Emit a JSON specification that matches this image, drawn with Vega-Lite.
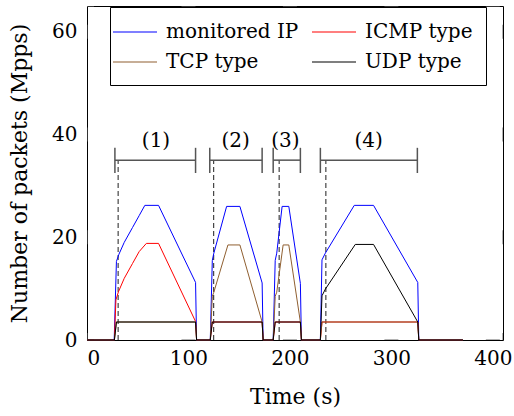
{
  "$schema": "https://vega.github.io/schema/vega-lite/v6.json",
  "autosize": {"type": "none"},
  "width": 416,
  "height": 334,
  "padding": {"left": 87, "top": 6, "right": 11, "bottom": 76},
  "background": "white",
  "config": {
    "font": "DejaVu Serif",
    "view": {"stroke": "black", "strokeWidth": 1},
    "axis": {
      "labelFont": "DejaVu Serif",
      "titleFont": "DejaVu Serif",
      "labelFontSize": 20,
      "titleFontSize": 22,
      "titleFontWeight": "normal",
      "labelColor": "black",
      "titleColor": "black",
      "ticks": false,
      "domain": false,
      "grid": false
    }
  },
  "datasets": {
    "lines": [
      {"t": 0, "v": 0, "s": "monitored IP"}, {"t": 26.8, "v": 0, "s": "monitored IP"}, {"t": 29, "v": 15.3, "s": "monitored IP"}, {"t": 31.5, "v": 16.7, "s": "monitored IP"}, {"t": 36.7, "v": 19, "s": "monitored IP"}, {"t": 44.9, "v": 21.9, "s": "monitored IP"}, {"t": 51.4, "v": 24.2, "s": "monitored IP"}, {"t": 57, "v": 26.2, "s": "monitored IP"}, {"t": 70.5, "v": 26.2, "s": "monitored IP"}, {"t": 107, "v": 11.2, "s": "monitored IP"}, {"t": 108, "v": 0, "s": "monitored IP"},
      {"t": 121.5, "v": 0, "s": "monitored IP"}, {"t": 123.5, "v": 15.5, "s": "monitored IP"}, {"t": 125, "v": 16.9, "s": "monitored IP"}, {"t": 137.6, "v": 26, "s": "monitored IP"}, {"t": 150.7, "v": 26, "s": "monitored IP"}, {"t": 172.6, "v": 11.1, "s": "monitored IP"}, {"t": 173.6, "v": 0, "s": "monitored IP"},
      {"t": 183.5, "v": 0, "s": "monitored IP"}, {"t": 185.5, "v": 15.5, "s": "monitored IP"}, {"t": 187, "v": 16.9, "s": "monitored IP"}, {"t": 192.3, "v": 26, "s": "monitored IP"}, {"t": 198.9, "v": 26, "s": "monitored IP"}, {"t": 210.3, "v": 11, "s": "monitored IP"}, {"t": 211.3, "v": 0, "s": "monitored IP"},
      {"t": 230, "v": 0, "s": "monitored IP"}, {"t": 231.6, "v": 15.6, "s": "monitored IP"}, {"t": 234.9, "v": 16.9, "s": "monitored IP"}, {"t": 263.4, "v": 26.2, "s": "monitored IP"}, {"t": 282.4, "v": 26.2, "s": "monitored IP"}, {"t": 326, "v": 11.2, "s": "monitored IP"}, {"t": 327, "v": 0, "s": "monitored IP"}, {"t": 370.5, "v": 0, "s": "monitored IP"},

      {"t": 0, "v": 0, "s": "ICMP type"}, {"t": 27, "v": 0, "s": "ICMP type"}, {"t": 28.5, "v": 7.8, "s": "ICMP type"}, {"t": 31, "v": 9.4, "s": "ICMP type"}, {"t": 36.7, "v": 12, "s": "ICMP type"}, {"t": 44.9, "v": 14.9, "s": "ICMP type"}, {"t": 51.4, "v": 17.2, "s": "ICMP type"}, {"t": 58.5, "v": 18.8, "s": "ICMP type"}, {"t": 70.5, "v": 18.8, "s": "ICMP type"}, {"t": 107, "v": 3.6, "s": "ICMP type"}, {"t": 108, "v": 0, "s": "ICMP type"},
      {"t": 121.5, "v": 0, "s": "ICMP type"}, {"t": 123.5, "v": 3.5, "s": "ICMP type"}, {"t": 172.6, "v": 3.5, "s": "ICMP type"}, {"t": 173.6, "v": 0, "s": "ICMP type"},
      {"t": 183.5, "v": 0, "s": "ICMP type"}, {"t": 185.5, "v": 3.5, "s": "ICMP type"}, {"t": 210.3, "v": 3.5, "s": "ICMP type"}, {"t": 211.3, "v": 0, "s": "ICMP type"},
      {"t": 230, "v": 0, "s": "ICMP type"}, {"t": 231.6, "v": 3.5, "s": "ICMP type"}, {"t": 326, "v": 3.5, "s": "ICMP type"}, {"t": 327, "v": 0, "s": "ICMP type"}, {"t": 370.5, "v": 0, "s": "ICMP type"},

      {"t": 0, "v": 0, "s": "TCP type"}, {"t": 27, "v": 0, "s": "TCP type"}, {"t": 29, "v": 3.5, "s": "TCP type"}, {"t": 107, "v": 3.5, "s": "TCP type"}, {"t": 108, "v": 0, "s": "TCP type"},
      {"t": 121.5, "v": 0, "s": "TCP type"}, {"t": 123.5, "v": 8.5, "s": "TCP type"}, {"t": 125, "v": 9.3, "s": "TCP type"}, {"t": 138.9, "v": 18.5, "s": "TCP type"}, {"t": 150.7, "v": 18.5, "s": "TCP type"}, {"t": 172.6, "v": 3.5, "s": "TCP type"}, {"t": 173.6, "v": 0, "s": "TCP type"},
      {"t": 183.5, "v": 0, "s": "TCP type"}, {"t": 185.5, "v": 8.5, "s": "TCP type"}, {"t": 187, "v": 9.3, "s": "TCP type"}, {"t": 193.3, "v": 18.5, "s": "TCP type"}, {"t": 198.9, "v": 18.5, "s": "TCP type"}, {"t": 210.3, "v": 3.5, "s": "TCP type"}, {"t": 211.3, "v": 0, "s": "TCP type"},
      {"t": 230, "v": 0, "s": "TCP type"}, {"t": 231.6, "v": 3.5, "s": "TCP type"}, {"t": 326, "v": 3.5, "s": "TCP type"}, {"t": 327, "v": 0, "s": "TCP type"}, {"t": 370.5, "v": 0, "s": "TCP type"},

      {"t": 0, "v": 0, "s": "UDP type"}, {"t": 27, "v": 0, "s": "UDP type"}, {"t": 29, "v": 3.5, "s": "UDP type"}, {"t": 107, "v": 3.5, "s": "UDP type"}, {"t": 108, "v": 0, "s": "UDP type"},
      {"t": 121.5, "v": 0, "s": "UDP type"}, {"t": 123.5, "v": 3.5, "s": "UDP type"}, {"t": 172.6, "v": 3.5, "s": "UDP type"}, {"t": 173.6, "v": 0, "s": "UDP type"},
      {"t": 183.5, "v": 0, "s": "UDP type"}, {"t": 185.5, "v": 3.5, "s": "UDP type"}, {"t": 210.3, "v": 3.5, "s": "UDP type"}, {"t": 211.3, "v": 0, "s": "UDP type"},
      {"t": 230, "v": 0, "s": "UDP type"}, {"t": 231.6, "v": 8.6, "s": "UDP type"}, {"t": 234.9, "v": 9.9, "s": "UDP type"}, {"t": 264.4, "v": 18.6, "s": "UDP type"}, {"t": 282.4, "v": 18.6, "s": "UDP type"}, {"t": 326, "v": 3.5, "s": "UDP type"}, {"t": 327, "v": 0, "s": "UDP type"}, {"t": 370.5, "v": 0, "s": "UDP type"}
    ],
    "phases": [
      {"label": "(1)", "start": 27.5, "end": 107, "mid": 68, "attack": 30.7, "y": 35, "ylo": 32.5, "yhi": 37.4, "ylab": 38.7, "zero": 0},
      {"label": "(2)", "start": 121, "end": 172.6, "mid": 146.5, "attack": 124.8, "y": 35, "ylo": 32.5, "yhi": 37.4, "ylab": 38.7, "zero": 0},
      {"label": "(3)", "start": 183.5, "end": 210.3, "mid": 195.5, "attack": 189.4, "y": 35, "ylo": 32.5, "yhi": 37.4, "ylab": 38.7, "zero": 0},
      {"label": "(4)", "start": 230, "end": 325.6, "mid": 277.5, "attack": 235.4, "y": 35, "ylo": 32.5, "yhi": 37.4, "ylab": 38.7, "zero": 0}
    ],
    "xticks": [{"tx": 0}, {"tx": 100}, {"tx": 200}, {"tx": 300}, {"tx": 400}],
    "yticks": [{"ty": 0}, {"ty": 20}, {"ty": 40}, {"ty": 60}]
  },
  "layer": [
    {
      "data": {"name": "phases"},
      "mark": {"type": "rule", "color": "#444", "strokeWidth": 1.2, "strokeDash": [5, 3]},
      "encoding": {
        "x": {"field": "attack", "type": "quantitative", "scale": {"domain": [0, 410], "nice": false},
              "axis": {"values": [0, 100, 200, 300, 400], "labelPadding": 8, "title": "Time (s)", "titlePadding": 18}},
        "y": {"field": "zero", "type": "quantitative", "scale": {"domain": [0, 65], "nice": false},
              "axis": {"values": [0, 20, 40, 60], "labelPadding": 10, "title": "Number of packets (Mpps)", "titlePadding": 20}},
        "y2": {"field": "y"}
      }
    },
    {
      "data": {"name": "xticks"},
      "mark": {"type": "tick", "orient": "horizontal", "color": "#666", "opacity": 1, "thickness": 1, "size": 14, "clip": true},
      "encoding": {"x": {"field": "tx", "type": "quantitative"}, "y": {"datum": 0}}
    },
    {
      "data": {"name": "xticks"},
      "mark": {"type": "tick", "orient": "horizontal", "color": "#666", "opacity": 1, "thickness": 1, "size": 14, "clip": true},
      "encoding": {"x": {"field": "tx", "type": "quantitative"}, "y": {"datum": 65}}
    },
    {
      "data": {"name": "yticks"},
      "mark": {"type": "tick", "orient": "vertical", "color": "#666", "opacity": 1, "thickness": 1, "size": 14, "clip": true},
      "encoding": {"y": {"field": "ty", "type": "quantitative"}, "x": {"datum": 0}}
    },
    {
      "data": {"name": "yticks"},
      "mark": {"type": "tick", "orient": "vertical", "color": "#666", "opacity": 1, "thickness": 1, "size": 14, "clip": true},
      "encoding": {"y": {"field": "ty", "type": "quantitative"}, "x": {"datum": 410}}
    },
    {
      "data": {"name": "phases"},
      "mark": {"type": "rule", "color": "#555", "strokeWidth": 1.5},
      "encoding": {
        "x": {"field": "start", "type": "quantitative"},
        "x2": {"field": "end"},
        "y": {"field": "y", "type": "quantitative"}
      }
    },
    {
      "data": {"name": "phases"},
      "mark": {"type": "rule", "color": "#555", "strokeWidth": 1.5},
      "encoding": {
        "x": {"field": "start", "type": "quantitative"},
        "y": {"field": "ylo", "type": "quantitative"},
        "y2": {"field": "yhi"}
      }
    },
    {
      "data": {"name": "phases"},
      "mark": {"type": "rule", "color": "#555", "strokeWidth": 1.5},
      "encoding": {
        "x": {"field": "end", "type": "quantitative"},
        "y": {"field": "ylo", "type": "quantitative"},
        "y2": {"field": "yhi"}
      }
    },
    {
      "data": {"name": "phases"},
      "mark": {"type": "text", "font": "DejaVu Serif", "fontSize": 20, "color": "black", "baseline": "middle", "align": "center"},
      "encoding": {
        "x": {"field": "mid", "type": "quantitative"},
        "y": {"field": "ylab", "type": "quantitative"},
        "text": {"field": "label"}
      }
    },
    {
      "data": {"name": "lines"},
      "mark": {"type": "line", "strokeWidth": 1, "interpolate": "linear"},
      "encoding": {
        "x": {"field": "t", "type": "quantitative"},
        "y": {"field": "v", "type": "quantitative"},
        "color": {
          "field": "s", "type": "nominal",
          "scale": {"domain": ["monitored IP", "ICMP type", "TCP type", "UDP type"], "range": ["#0000ff", "#ff0000", "#8f5f30", "#000000"]},
          "legend": {
            "title": null, "orient": "none", "legendX": 23, "legendY": 1, "columns": 2, "direction": "horizontal",
            "strokeColor": "black", "fillColor": "white", "padding": 13,
            "columnPadding": 10, "rowPadding": 8,
            "labelFont": "DejaVu Serif", "labelFontSize": 20, "labelColor": "black", "labelOffset": 19,
            "symbolType": "M-2,0H2", "symbolSize": 484, "symbolStrokeWidth": 1.2
          }
        },
        "order": {"field": "t", "type": "quantitative"}
      }
    }
  ]
}
